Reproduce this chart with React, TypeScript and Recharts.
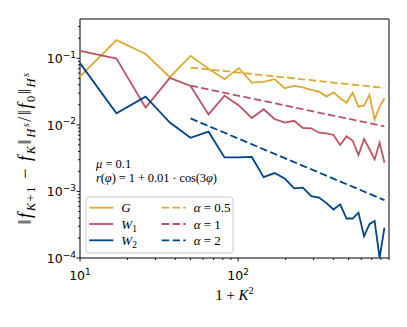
import React from 'react';
import { LineChart, Line, XAxis, YAxis, ReferenceArea } from 'recharts';

// x = 1 + K^2 for K = 3..29
const xValues = [10, 17, 26, 37, 50, 65, 82, 101, 122, 145, 170, 197, 226, 257, 290, 325, 362, 401, 442, 485, 530, 577, 626, 677, 730, 785, 842];

const gValues = [0.0532, 0.188, 0.116, 0.052, 0.109, 0.0695, 0.0487, 0.0712, 0.0433, 0.0443, 0.0487, 0.0356, 0.0385, 0.0366, 0.0336, 0.0316, 0.0266, 0.0308, 0.0251, 0.0216, 0.0305, 0.0188, 0.0194, 0.0282, 0.0121, 0.0188, 0.0251];
const w1Values = [0.1297, 0.0993, 0.01815, 0.0508, 0.0385, 0.01435, 0.0275, 0.0196, 0.0127, 0.01718, 0.01227, 0.0108, 0.01153, 0.00898, 0.00889, 0.00763, 0.00747, 0.00705, 0.00498, 0.00673, 0.00578, 0.00352, 0.00614, 0.00434, 0.00303, 0.0054, 0.0027];
const w2Values = [0.0847, 0.01496, 0.0266, 0.01086, 0.0064, 0.0079, 0.00325, 0.00325, 0.0033, 0.00164, 0.00189, 0.00157, 0.00111, 0.00114, 0.00085, 0.00081, 0.000667, 0.000536, 0.00064, 0.000392, 0.000392, 0.00048, 0.000212, 0.000322, 0.000361, 0.0001, 0.000287];

// reference slopes, drawn between their end points
const refX = [50, 842];
const alpha05 = [0.0727, 0.0359];
const alpha1 = [0.0389, 0.0095];
const alpha2 = [0.0125, 0.00074];

const xMajor = [10, 100];
const yMajor = [1e-4, 1e-3, 1e-2, 1e-1];
const X_DOMAIN = [10, 900];
const Y_DOMAIN = [1e-4, 0.39];

const xTicks: number[] = [];
xMajor.forEach((d) => {
  for (let m = 1; m <= 9; m++) if (d * m <= X_DOMAIN[1]) xTicks.push(d * m);
});
const yTicks: number[] = [];
yMajor.forEach((d) => {
  for (let m = 1; m <= 9; m++) if (d * m <= Y_DOMAIN[1]) yTicks.push(d * m);
});

const mainData = xValues.map((x, i) => ({ x, G: gValues[i], W1: w1Values[i], W2: w2Values[i] }));
const refData = refX.map((x, i) => ({ x, a05: alpha05[i], a1: alpha1[i], a2: alpha2[i] }));

const C_G = '#DDAA33';
const C_W1 = '#BB5566';
const C_W2 = '#004488';
const DASH = '7.5 3.3';
const SERIF = '"Liberation Serif", serif';
const SANS = '"DejaVu Sans", sans-serif';

const XTick = (props: any) => {
  const { x, y, payload } = props;
  const v = payload.value;
  const major = xMajor.includes(v);
  const exp = Math.round(Math.log10(v));
  return (
    <g>
      <line x1={x} x2={x} y1={y} y2={y + (major ? 3.5 : 2)} stroke="#000" strokeWidth={0.9} />
      {major && (
        <text x={x} y={y + 22} textAnchor="middle" fontFamily={SANS} fontSize={12.5} fill="#000">
          10<tspan dy={-5.5} fontSize={9}>{exp}</tspan>
        </text>
      )}
    </g>
  );
};

const YTick = (props: any) => {
  const { x, y, payload } = props;
  const v = payload.value;
  const major = yMajor.includes(v);
  const exp = Math.round(Math.log10(v));
  return (
    <g>
      <line x1={x} x2={x - (major ? 3.5 : 2)} y1={y} y2={y} stroke="#000" strokeWidth={0.9} />
      {major && (
        <text x={x - 4} y={y + 5} textAnchor="end" fontFamily={SANS} fontSize={12.5} fill="#000">
          10<tspan dy={-5.5} fontSize={9}>{`−${-exp}`}</tspan>
        </text>
      )}
    </g>
  );
};

const legendRows = [
  { color: C_G, dashed: false, label: <tspan fontStyle="italic">G</tspan> },
  { color: C_W1, dashed: false, label: <><tspan fontStyle="italic">W</tspan><tspan dy={3} fontSize={9.5}>1</tspan></> },
  { color: C_W2, dashed: false, label: <><tspan fontStyle="italic">W</tspan><tspan dy={3} fontSize={9.5}>2</tspan></> },
  { color: C_G, dashed: true, label: <><tspan fontStyle="italic">α</tspan> = 0.5</> },
  { color: C_W1, dashed: true, label: <><tspan fontStyle="italic">α</tspan> = 1</> },
  { color: C_W2, dashed: true, label: <><tspan fontStyle="italic">α</tspan> = 2</> },
];

function Overlay() {
  return (
    <svg width={400} height={311} style={{ position: 'absolute', left: 0, top: 0, pointerEvents: 'none' }}>
      {/* y label */}
      <text transform="translate(23,140) rotate(-90)" textAnchor="middle" fontFamily={SERIF} fontSize={18} fill="#000" letterSpacing={1.6}>
        ‖<tspan fontStyle="italic">f</tspan>
        <tspan dy={3.5} fontSize={12.5}><tspan fontStyle="italic">K</tspan>+1</tspan>
        <tspan dy={-3.5}> − </tspan><tspan fontStyle="italic">f</tspan>
        <tspan dy={3.5} fontSize={12.5} fontStyle="italic">K</tspan>
        <tspan dy={-3.5}>‖</tspan>
        <tspan dy={3.5} fontSize={12.5} fontStyle="italic">H</tspan>
        <tspan dy={-5.5} fontSize={9.5} fontStyle="italic">s</tspan>
        <tspan dy={2}>/‖</tspan><tspan fontStyle="italic">f</tspan>
        <tspan dy={3.5} fontSize={12.5}>0</tspan>
        <tspan dy={-3.5}>‖</tspan>
        <tspan dy={3.5} fontSize={12.5} fontStyle="italic">H</tspan>
        <tspan dy={-5.5} fontSize={9.5} fontStyle="italic">s</tspan>
      </text>
      {/* x label */}
      <text x={226.5} y={292} textAnchor="middle" fontFamily={SERIF} fontSize={15} fill="#000">
        1 + <tspan fontStyle="italic">K</tspan><tspan dy={-6} fontSize={10.5}>2</tspan>
      </text>
      {/* annotation */}
      <text x={88} y={160} fontFamily={SERIF} fontSize={12.5} fill="#000">
        <tspan fontStyle="italic">μ</tspan> = 0.1
      </text>
      <text x={88} y={173.5} fontFamily={SERIF} fontSize={12.5} fill="#000" textLength={121} lengthAdjust="spacing">
        <tspan fontStyle="italic">r</tspan>(<tspan fontStyle="italic">φ</tspan>) = 1 + 0.01 · cos(3<tspan fontStyle="italic">φ</tspan>)
      </text>
      {/* legend */}
      <rect x={78} y={189} width={147} height={56} rx={3} fill="#fff" fillOpacity={0.8} stroke="#ccc" strokeWidth={1} />
      {legendRows.map((r, i) => {
        const col = Math.floor(i / 3);
        const row = i % 3;
        const cy = 199.7 + row * 16.3;
        const sx = col === 0 ? 81.3 : 153.7;
        return (
          <g key={i}>
            <line x1={sx} x2={sx + 24} y1={cy} y2={cy} stroke={r.color} strokeWidth={1.8} strokeDasharray={r.dashed ? DASH : undefined} />
            <text x={sx + 32} y={cy + 4.5} fontFamily={SERIF} fontSize={13} fill="#000">{r.label}</text>
          </g>
        );
      })}
    </svg>
  );
}

export default function App() {
  return (
    <div style={{ position: 'relative', width: 400, height: 311 }}>
      <LineChart width={400} height={311} data={mainData} margin={{ top: 11, right: 19, bottom: 11, left: 0 }}>
        <XAxis
          dataKey="x"
          type="number"
          scale="log"
          domain={X_DOMAIN}
          allowDataOverflow
          ticks={xTicks}
          interval={0}
          tick={<XTick />}
          tickLine={false}
          axisLine={false}
          tickSize={0}
          tickMargin={0}
          height={50}
        />
        <YAxis
          type="number"
          scale="log"
          domain={Y_DOMAIN}
          allowDataOverflow
          ticks={yTicks}
          interval={0}
          tick={<YTick />}
          tickLine={false}
          axisLine={false}
          tickSize={0}
          tickMargin={0}
          width={72}
        />
        <Line dataKey="G" stroke={C_G} strokeWidth={1.8} dot={false} isAnimationActive={false} />
        <Line dataKey="W1" stroke={C_W1} strokeWidth={1.8} dot={false} isAnimationActive={false} />
        <Line dataKey="W2" stroke={C_W2} strokeWidth={1.8} dot={false} isAnimationActive={false} />
        <Line data={refData} dataKey="a05" stroke={C_G} strokeWidth={1.8} strokeDasharray={DASH} dot={false} isAnimationActive={false} />
        <Line data={refData} dataKey="a1" stroke={C_W1} strokeWidth={1.8} strokeDasharray={DASH} dot={false} isAnimationActive={false} />
        <Line data={refData} dataKey="a2" stroke={C_W2} strokeWidth={1.8} strokeDasharray={DASH} dot={false} isAnimationActive={false} />
        <ReferenceArea x1={X_DOMAIN[0]} x2={X_DOMAIN[1]} y1={Y_DOMAIN[0]} y2={Y_DOMAIN[1]} fill="none" stroke="#000" strokeWidth={1} ifOverflow="visible" />
      </LineChart>
      <Overlay />
    </div>
  );
}
